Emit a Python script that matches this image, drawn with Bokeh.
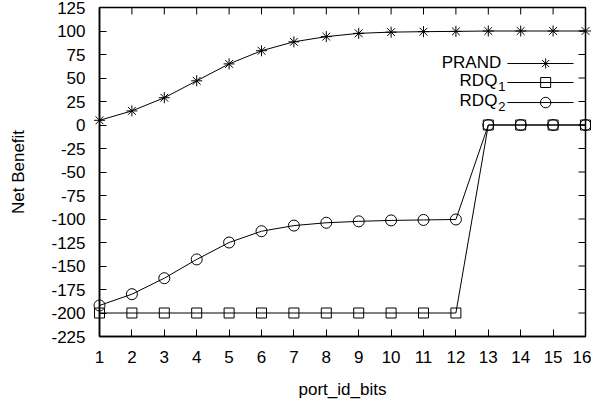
import math
from bokeh.plotting import figure
from bokeh.models import Range1d, FixedTicker, Label
from bokeh.embed import file_html
from bokeh.resources import INLINE

# data
port_id_bits = list(range(1, 17))
prand = [5, 15, 29, 47, 65, 79, 88.5, 94, 97.5, 98.8, 99.3, 99.6, 100, 100, 100, 100]
rdq1 = [-200, -200, -200, -200, -200, -200, -200, -200, -200, -200, -200, -200, 0, 0, 0, 0]
rdq2 = [-192, -180, -163, -143, -125, -113, -107, -104, -102.5, -101.5, -101, -100.5, 0, 0, 0, 0]
x_ticks = list(range(1, 17))
y_ticks = list(range(-225, 126, 25))

FONT = "Liberation Sans"
FS = "17px"
X_MIN, X_MAX, Y_MIN, Y_MAX = 1, 16, -225, 125

p = figure(output_backend="svg", toolbar_location=None,
           frame_width=486, frame_height=329,
           min_border_left=99, min_border_right=6, min_border_top=7, min_border_bottom=59,
           x_range=Range1d(X_MIN, X_MAX), y_range=Range1d(Y_MIN, Y_MAX))
p.background_fill_color = "white"
p.border_fill_color = "white"
p.xgrid.visible = False
p.ygrid.visible = False
p.outline_line_color = "black"
p.outline_line_width = 1.5

for ax, ticks in ((p.xaxis[0], x_ticks), (p.yaxis[0], y_ticks)):
    ax.ticker = FixedTicker(ticks=ticks)
    ax.major_label_overrides = {t: str(t) for t in ticks}
    ax.major_tick_in = 7
    ax.major_tick_out = 0
    ax.minor_tick_in = 0
    ax.minor_tick_out = 0
    ax.axis_line_color = "black"
    ax.axis_line_width = 1.5
    ax.major_tick_line_color = "black"
    ax.major_label_text_font = FONT
    ax.major_label_text_font_size = FS
    ax.major_label_text_color = "black"
    ax.axis_label_text_font = FONT
    ax.axis_label_text_font_size = FS
    ax.axis_label_text_font_style = "normal"
    ax.axis_label_text_color = "black"

p.xaxis[0].axis_label = "port_id_bits"
p.xaxis[0].major_label_standoff = 14
p.xaxis[0].axis_label_standoff = 14
p.yaxis[0].axis_label = "Net Benefit"
p.yaxis[0].major_label_standoff = 14
p.yaxis[0].axis_label_standoff = 20

# mirrored inward ticks on the top and right edges
p.ray(x=x_ticks, y=[Y_MAX] * len(x_ticks), length=7, length_units="screen",
      angle=-math.pi / 2, line_color="black", line_width=1)
p.ray(x=[X_MAX] * len(y_ticks), y=y_ticks, length=7, length_units="screen",
      angle=math.pi, line_color="black", line_width=1)

# series
p.line(port_id_bits, prand, line_color="black", line_width=1)
r = p.scatter(port_id_bits, prand, marker="asterisk", size=11, line_color="black", line_width=1)
r.level = "overlay"
p.line(port_id_bits, rdq1, line_color="black", line_width=1)
r = p.scatter(port_id_bits, rdq1, marker="square", size=10, line_color="black",
              fill_color=None, line_width=1)
r.level = "overlay"
p.line(port_id_bits, rdq2, line_color="black", line_width=1)
r = p.scatter(port_id_bits, rdq2, marker="circle", size=11, line_color="black",
              fill_color=None, line_width=1)
r.level = "overlay"

# legend (gnuplot style: text on the left, sample on the right)
leg_y = [65.4, 45.2, 23.9]
markers = ["asterisk", "square", "circle"]
msize = [10, 10, 10.5]
for yy, m, s in zip(leg_y, markers, msize):
    p.line([13.59, 15.63], [yy, yy], line_color="black", line_width=1)
    p.scatter([14.77], [yy], marker=m, size=s, line_color="black", fill_color=None, line_width=1)

p.add_layout(Label(x=13.40, y=leg_y[0] + 0.7, text="PRAND", text_align="right",
                   text_baseline="middle", text_font=FONT, text_font_size=FS,
                   text_color="black"))
for yy, sub in zip(leg_y[1:], ["1", "2"]):
    p.add_layout(Label(x=13.28, y=yy + 1.8, text="RDQ", text_align="right",
                       text_baseline="middle", text_font=FONT, text_font_size=FS,
                       text_color="black"))
    p.add_layout(Label(x=13.31, y=yy - 4, text=sub, text_align="left",
                       text_baseline="middle", text_font=FONT, text_font_size="13px",
                       text_color="black"))

open("out.html", "w").write(file_html(p, INLINE))
